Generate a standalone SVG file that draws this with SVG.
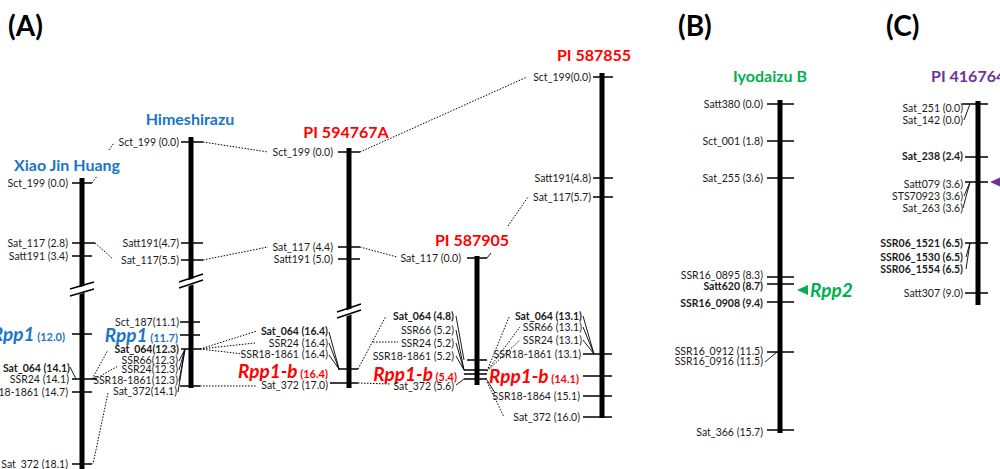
<svg xmlns="http://www.w3.org/2000/svg" width="1000" height="469" viewBox="0 0 1000 469">
<style>
text{font-family:Lato,"Liberation Sans",sans-serif}
.l{font-size:10.5px;fill:#1a1a1a;text-anchor:end}
.b{font-weight:bold}
.t{font-size:16px;font-weight:bold;text-anchor:middle}
.p{font-size:28px;font-weight:bold;fill:#000}
.bar{stroke:#000;stroke-width:5;fill:none}
.tk{stroke:#000;stroke-width:1.5;fill:none}
.ln{stroke:#000;stroke-width:0.9;fill:none}
.dt{stroke:#000;stroke-width:1;stroke-dasharray:1.5 1.5;fill:none}
.big{font-size:19px;font-weight:bold;font-style:italic}
.sm{font-size:11px;font-weight:bold}
.blue{fill:#1a75c9}
.red{fill:#ff0000}
.green{fill:#00b050}
.purple{fill:#7030a0}
</style>
<rect width="1000" height="469" fill="#fff"/>
<g id="panel-labels">
<text class="p" x="8" y="36">(A)</text>
<text class="p" x="678" y="36">(B)</text>
<text class="p" x="886" y="36">(C)</text>
</g>
<g id="connectors">
<path class="dt" d="M92,183 L97,176 M109,150 L114,143"/>
<path class="dt" d="M95,243 L113,259"/>
<path class="dt" d="M92,379 L108,350 M95,379 L118,366 M108,393 L93,464"/>
<path class="dt" d="M203,142 L268,152 M203,260 L268,247"/>
<path class="dt" d="M200,349 L257,331 M200,349 L255,343 M200,349 L243,354 M200,386 L257,386"/>
<path class="dt" d="M360,152 L527,77 M360,247 L397,257"/>
<path class="dt" d="M358,369 L386,316 M373,342 L398,342 M358,383 L391,384"/>
<path class="ln" d="M487,258 L491,253"/>
<path class="dt" d="M508,226 L528,197"/>
<path class="dt" d="M487,371 L509,317 M487,371 L520,327 M487,371 L520,340 M487,382 L504,417"/>
<path class="ln" d="M487,380 L495,393"/>
<path class="ln" d="M70,367 L76,379"/>
<path class="ln" d="M179,361 L185,349 M179,370 L185,349 M179,381 L185,349 M178,392 L185,349"/>
<path class="ln" d="M329,332 L339,369 M329,343 L339,369 M329,355 L339,369"/>
<path class="ln" d="M456,316 L464,360 M456,330 L464,370 M456,343 L464,370 M456,356 L464,370 M456,385 L464,379"/>
<path class="ln" d="M583,316 L594,354 M583,327 L594,354 M583,340 L594,354"/>
<path class="ln" d="M765,362 L777,352"/>
<path class="ln" d="M964,120 L970,104 M964,196 L970,182 M963,208 L970,182 M966,257 L970,243 M966,269 L970,243"/>
</g>
<g id="xiao-jin-huang">
<text class="t blue" x="67" y="171">Xiao Jin Huang</text>
<line class="bar" x1="82" y1="178" x2="82" y2="469"/>
<path class="tk" d="M72,183 H92 M72,243 H95 M72,256 H92 M72,334 H92 M72,379 H97 M72,392 H92 M72,464 H92"/>
<polygon points="78,287.8 87,285 87,292 78,294.8" fill="#fff"/>
<path class="tk" d="M70,289 L94,282 M70,296 L94,289"/>
<text class="l" x="68" y="187">Sct_199 (0.0)</text>
<text class="l" x="68" y="247">Sat_117 (2.8)</text>
<text class="l" x="68" y="260">Satt191 (3.4)</text>
<text x="65" y="341" text-anchor="end"><tspan class="big blue">Rpp1</tspan><tspan class="sm blue"> (12.0)</tspan></text>
<text class="l b" x="70" y="372">Sat_064 (14.1)</text>
<text class="l" x="69" y="383">SSR24 (14.1)</text>
<text class="l" x="68" y="396">SSR18-1861 (14.7)</text>
<text class="l" x="68" y="468">Sat_372 (18.1)</text>
</g>
<g id="himeshirazu">
<text class="t blue" x="190" y="125">Himeshirazu</text>
<line class="bar" x1="191" y1="137" x2="191" y2="388"/>
<path class="tk" d="M181,142 H203 M181,243 H203 M181,260 H203 M180,322 H200 M180,335 H200 M181,349 H200 M180,386 H200"/>
<polygon points="187,280.7 196,277.6 196,283.6 187,286.7" fill="#fff"/>
<path class="tk" d="M179,282 L203,274 M179,288 L203,280"/>
<text class="l" x="179" y="146">Sct_199 (0.0)</text>
<text class="l" x="179" y="247">Satt191(4.7)</text>
<text class="l" x="179" y="264">Sat_117(5.5)</text>
<text class="l" x="179" y="326">Sct_187(11.1)</text>
<text x="178" y="342" text-anchor="end"><tspan class="big blue">Rpp1</tspan><tspan class="sm blue"> (11.7)</tspan></text>
<text class="l b" x="179" y="353">Sat_064(12.3)</text>
<text class="l" x="178" y="364">SSR66(12.3)</text>
<text class="l" x="178" y="373">SSR24(12.3)</text>
<text class="l" x="178" y="384">SSR18-1861(12.3)</text>
<text class="l" x="177" y="395">Sat_372(14.1)</text>
</g>
<g id="pi594767a">
<text class="t red" x="346" y="138">PI 594767A</text>
<line class="bar" x1="349" y1="148" x2="349" y2="388"/>
<path class="tk" d="M338,152 H360 M338,247 H360 M338,259 H360 M338,369 H358 M330,383 H358"/>
<polygon points="345,310.7 354,307.7 354,313.7 345,316.7" fill="#fff"/>
<path class="tk" d="M337,312 L361,304 M337,318 L361,310"/>
<text class="l" x="333" y="156">Sct_199 (0.0)</text>
<text class="l" x="333" y="251">Sat_117 (4.4)</text>
<text class="l" x="333" y="263">Satt191 (5.0)</text>
<text class="l b" x="328" y="335">Sat_064 (16.4)</text>
<text class="l" x="328" y="347">SSR24 (16.4)</text>
<text class="l" x="328" y="358">SSR18-1861 (16.4)</text>
<text x="328" y="378" text-anchor="end"><tspan class="big red">Rpp1-b</tspan><tspan class="sm red"> (16.4)</tspan></text>
<text class="l" x="328" y="389">Sat_372 (17.0)</text>
</g>
<g id="pi587905">
<text class="t red" x="472" y="246">PI 587905</text>
<line class="bar" x1="477" y1="256" x2="477" y2="385"/>
<path class="tk" d="M467,258 H487 M467,360 H487 M464,370 H487 M464,374 H487 M464,379 H487"/>
<text class="l" x="461" y="262">Sat_117 (0.0)</text>
<text class="l b" x="454" y="320">Sat_064 (4.8)</text>
<text class="l" x="454" y="334">SSR66 (5.2)</text>
<text class="l" x="454" y="347">SSR24 (5.2)</text>
<text class="l" x="454" y="360">SSR18-1861 (5.2)</text>
<text x="457" y="381" text-anchor="end"><tspan class="big red">Rpp1-b</tspan><tspan class="sm red"> (5.4)</tspan></text>
<text class="l" x="454" y="390">Sat_372 (5.6)</text>
</g>
<g id="pi587855">
<text class="t red" x="594" y="61">PI 587855</text>
<line class="bar" x1="602" y1="73" x2="602" y2="418"/>
<path class="tk" d="M593,77 H613 M593,178 H613 M593,197 H613 M583,354 H612 M583,376 H612 M583,396 H612 M583,417 H612"/>
<text class="l" x="591" y="81">Sct_199(0.0)</text>
<text class="l" x="591" y="182">Satt191(4.8)</text>
<text class="l" x="591" y="201">Sat_117(5.7)</text>
<text class="l b" x="582" y="320">Sat_064 (13.1)</text>
<text class="l" x="582" y="331">SSR66 (13.1)</text>
<text class="l" x="582" y="344">SSR24 (13.1)</text>
<text class="l" x="581" y="358">SSR18-1861 (13.1)</text>
<text x="579" y="383" text-anchor="end"><tspan class="big red">Rpp1-b</tspan><tspan class="sm red"> (14.1)</tspan></text>
<text class="l" x="580" y="400">SSR18-1864 (15.1)</text>
<text class="l" x="580" y="421">Sat_372 (16.0)</text>
</g>
<g id="iyodaizu-b">
<text class="t green" x="770" y="82">Iyodaizu B</text>
<line class="bar" x1="780" y1="100" x2="780" y2="433"/>
<path class="tk" d="M767,104 H794 M767,141 H794 M767,178 H794 M767,277 H794 M767,284 H794 M767,302 H794 M767,352 H794 M767,430 H794"/>
<text class="l" x="763" y="108">Satt380 (0.0)</text>
<text class="l" x="763" y="145">Sct_001 (1.8)</text>
<text class="l" x="763" y="182">Sat_255 (3.6)</text>
<text class="l" x="763" y="279">SSR16_0895 (8.3)</text>
<text class="l b" x="763" y="290">Satt620 (8.7)</text>
<text class="l b" x="763" y="307">SSR16_0908 (9.4)</text>
<text class="l" x="763" y="355">SSR16_0912 (11.5)</text>
<text class="l" x="763" y="365">SSR16_0916 (11.5)</text>
<text class="l" x="763" y="436">Sat_366 (15.7)</text>
<polygon class="green" points="797,290 808,285 808,295"/>
<text class="big green" x="810" y="297">Rpp2</text>
</g>
<g id="pi416764">
<text class="purple" x="931" y="82" style="font-size:16px;font-weight:bold">PI 416764</text>
<line class="bar" x1="978" y1="101" x2="978" y2="305"/>
<path class="tk" d="M962,104 H988 M965,157 H988 M965,182 H988 M965,243 H988 M965,293 H988"/>
<text class="l" x="963" y="112">Sat_251 (0.0)</text>
<text class="l" x="963" y="124">Sat_142 (0.0)</text>
<text class="l b" x="963" y="160">Sat_238 (2.4)</text>
<text class="l" x="963" y="188">Satt079 (3.6)</text>
<text class="l" x="963" y="200">STS70923 (3.6)</text>
<text class="l" x="963" y="212">Sat_263 (3.6)</text>
<text class="l b" x="963" y="247">SSR06_1521 (6.5)</text>
<text class="l b" x="963" y="261">SSR06_1530 (6.5)</text>
<text class="l b" x="963" y="273">SSR06_1554 (6.5)</text>
<text class="l" x="963" y="297">Satt307 (9.0)</text>
<polygon class="purple" points="990,182 1001,177 1001,187"/>
</g>
</svg>
